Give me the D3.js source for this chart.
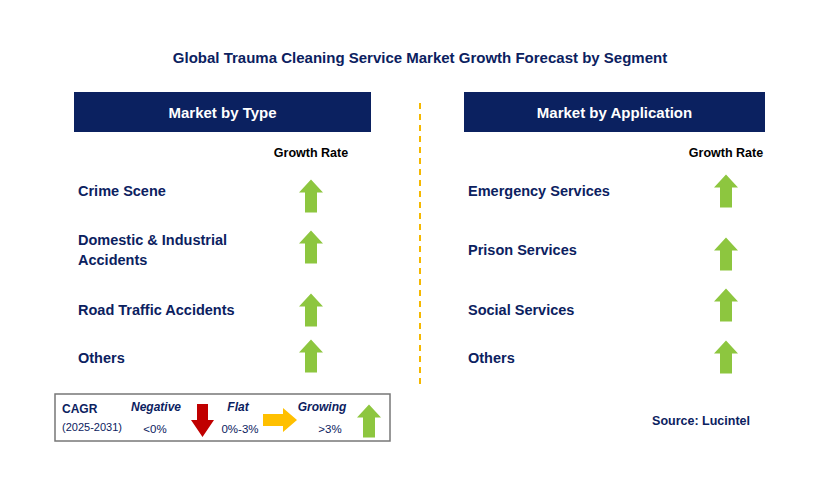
<!DOCTYPE html>
<html><head><meta charset="utf-8">
<script src="https://cdn.jsdelivr.net/npm/d3@7"></script>
<style>body{margin:0;background:#fff}text{font-family:Arial,"Liberation Sans",sans-serif}</style>
</head><body><svg width="829" height="501"></svg>
<script>
const title = 'Global Trauma Cleaning Service Market Growth Forecast by Segment';
const panels = ['Market by Type', 'Market by Application'];
const typeSegments = [['Crime Scene'], ['Domestic & Industrial', 'Accidents'], ['Road Traffic Accidents'], ['Others']];
const appSegments = [['Emergency Services'], ['Prison Services'], ['Social Services'], ['Others']];
const typeGrowth = ['up', 'up', 'up', 'up'];
const appGrowth = ['up', 'up', 'up', 'up'];

const svg = d3.select('svg');
const navy = '#0b2160', green = '#8dc63f';
const rowY = d3.scaleOrdinal().domain([0,1,2,3]).range([191, 250, 310, 358]);
const arrowYL = d3.scaleOrdinal().domain([0,1,2,3]).range([196, 247, 310, 356]);
const arrowYR = d3.scaleOrdinal().domain([0,1,2,3]).range([191, 254, 305, 357]);

svg.append('text').attr('x', 420).attr('y', 63).attr('text-anchor', 'middle')
  .attr('font-size', 15).attr('font-weight', 'bold').attr('fill', navy).text(title);

function upArrow(g, cx, cy, col) {
  const h = 33, w = 24, s = 12, hh = 13;
  g.append('path').attr('fill', col)
    .attr('d', `M${cx},${cy-h/2} L${cx+w/2},${cy-h/2+hh} L${cx+s/2},${cy-h/2+hh} L${cx+s/2},${cy+h/2} L${cx-s/2},${cy+h/2} L${cx-s/2},${cy-h/2+hh} L${cx-w/2},${cy-h/2+hh} Z`);
}

function panel(x0, x1, label, segs, growth, arrowX, ay) {
  svg.append('rect').attr('x', x0).attr('y', 92).attr('width', x1 - x0).attr('height', 40).attr('fill', navy);
  svg.append('text').attr('x', (x0 + x1) / 2).attr('y', 118).attr('text-anchor', 'middle')
    .attr('font-size', 15).attr('font-weight', 'bold').attr('fill', '#fff').text(label);
  svg.append('text').attr('x', arrowX).attr('y', 157).attr('text-anchor', 'middle')
    .attr('font-size', 12.5).attr('font-weight', 'bold').attr('fill', '#000').text('Growth Rate');
  segs.forEach((lines, i) => {
    const t = svg.append('text').attr('font-size', 14.5).attr('font-weight', 'bold').attr('fill', navy);
    const y0 = rowY(i) - (lines.length - 1) * 10 + 5;
    lines.forEach((l, j) => t.append('tspan').attr('x', x0 + 4).attr('y', y0 + j * 20).text(l));
    if (growth[i] === 'up') upArrow(svg, arrowX, ay(i), green);
  });
}
panel(74, 371, panels[0], typeSegments, typeGrowth, 311, arrowYL);
panel(464, 765, panels[1], appSegments, appGrowth, 726, arrowYR);

svg.append('line').attr('x1', 420).attr('x2', 420).attr('y1', 103).attr('y2', 388)
  .attr('stroke', '#f5b800').attr('stroke-width', 2).attr('stroke-dasharray', '6,5');

// legend
const lg = svg.append('g');
lg.append('rect').attr('x', 55).attr('y', 394).attr('width', 335).attr('height', 47)
  .attr('fill', '#fff').attr('stroke', '#777').attr('stroke-width', 1.5);
lg.append('text').attr('x', 62).attr('y', 413).attr('font-size', 12).attr('font-weight', 'bold').attr('fill', navy).text('CAGR');
lg.append('text').attr('x', 62).attr('y', 431).attr('font-size', 11).attr('fill', navy).text('(2025-2031)');
[['Negative', 156, '<0%', 155], ['Flat', 238, '0%-3%', 240], ['Growing', 322, '>3%', 330]].forEach(d => {
  lg.append('text').attr('x', d[1]).attr('y', 411).attr('text-anchor', 'middle').attr('font-size', 12)
    .attr('font-weight', 'bold').attr('font-style', 'italic').attr('fill', navy).text(d[0]);
  lg.append('text').attr('x', d[3]).attr('y', 433).attr('text-anchor', 'middle').attr('font-size', 11.5).attr('fill', navy).text(d[2]);
});
lg.append('path').attr('fill', '#c00000')
  .attr('d', 'M197,404 L208,404 L208,420 L214,420 L202.5,437 L191,420 L197,420 Z');
lg.append('path').attr('fill', '#ffc000')
  .attr('d', 'M263,414 L283,414 L283,408 L297,420 L283,432 L283,426 L263,426 Z');
upArrow(lg, 369, 421, green);

svg.append('text').attr('x', 750).attr('y', 425).attr('text-anchor', 'end').attr('font-size', 12.5)
  .attr('font-weight', 'bold').attr('fill', navy).text('Source: Lucintel');
</script></body></html>
